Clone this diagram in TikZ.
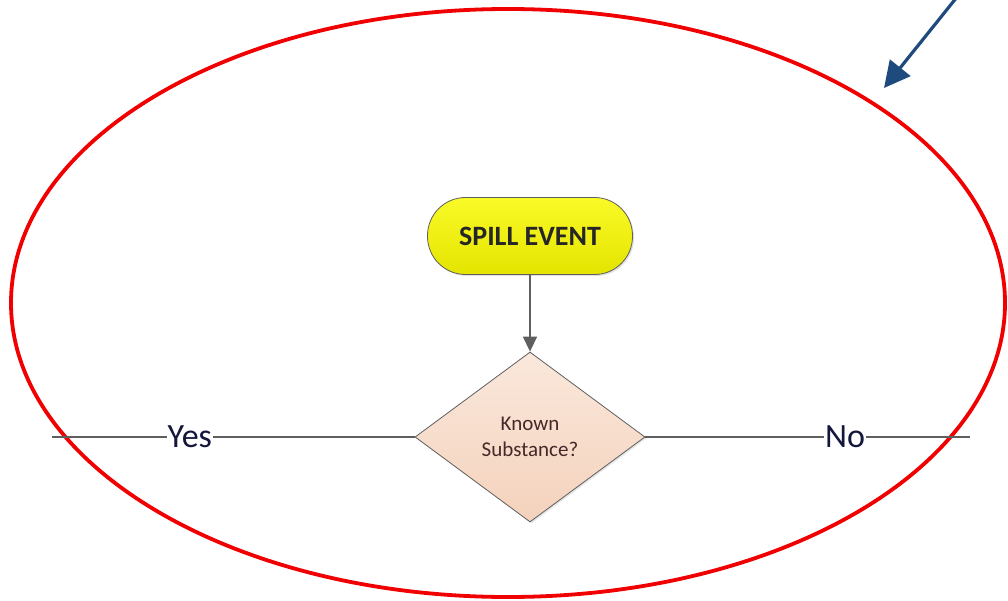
\documentclass[tikz,border=0pt]{standalone}
\usepackage{fontspec}
\setmainfont{Carlito}
\usetikzlibrary{shapes.geometric,arrows.meta,shadows}
\definecolor{ringred}{RGB}{240,0,0}
\definecolor{pointer}{RGB}{31,74,126}
\definecolor{flowgray}{RGB}{95,95,95}
\definecolor{labelink}{RGB}{20,22,60}
\definecolor{decink}{RGB}{70,40,40}
\definecolor{termtop}{RGB}{250,250,40}
\definecolor{termbot}{RGB}{228,228,0}
\definecolor{dectop}{RGB}{250,232,220}
\definecolor{decbot}{RGB}{244,210,188}
\tikzset{
  terminal/.style={draw=flowgray, line width=0.8pt, rounded corners=38pt,
    top color=termtop, bottom color=termbot,
    minimum width=205pt, minimum height=77pt, inner sep=0pt,
    font=\fontsize{28}{30}\selectfont\bfseries, text=black!85,
    drop shadow={shadow xshift=1.5pt, shadow yshift=-1.5pt, opacity=0.25}},
  decision/.style={diamond, draw=flowgray, line width=0.8pt,
    top color=dectop, bottom color=decbot,
    minimum width=230pt, minimum height=170pt, inner sep=0pt,
    align=center, font=\fontsize{21}{26}\selectfont, text=decink,
    drop shadow={shadow xshift=1.5pt, shadow yshift=-1.5pt, opacity=0.2}},
  flow/.style={draw=flowgray, line width=1.5pt},
  branchlabel/.style={fill=white, inner sep=1pt, text=labelink,
    font=\fontsize{34}{36}\selectfont},
}
\begin{document}
\begin{tikzpicture}[x=1pt, y=-1pt]
  \useasboundingbox (0,0) rectangle (1008,601);

  % highlight ring
  \draw[ringred, line width=3.8pt] (508,303) ellipse [x radius=497pt, y radius=294pt];

  % pointer arrow
  \coordinate (ptrstart) at (957,-3);
  \coordinate (ptrend) at (884,88);
  \draw[pointer, line width=3.2pt, -{Triangle[length=26pt, width=26pt]}] (ptrstart) -- (ptrend);

  % flowchart
  \node[terminal] (spill) at (530,236) {SPILL EVENT};
  \node[decision] (known) at (530,437) {Known\\Substance?};

  \draw[flow, -{Triangle[length=15pt, width=14pt]}] (spill) -- (known);

  \coordinate (yesend) at (52,437);
  \coordinate (noend) at (970,437);
  \draw[flow] (known.west) -- node[branchlabel, pos=0.62] {Yes} (yesend);
  \draw[flow] (known.east) -- node[branchlabel, pos=0.615] {No} (noend);
\end{tikzpicture}
\end{document}
